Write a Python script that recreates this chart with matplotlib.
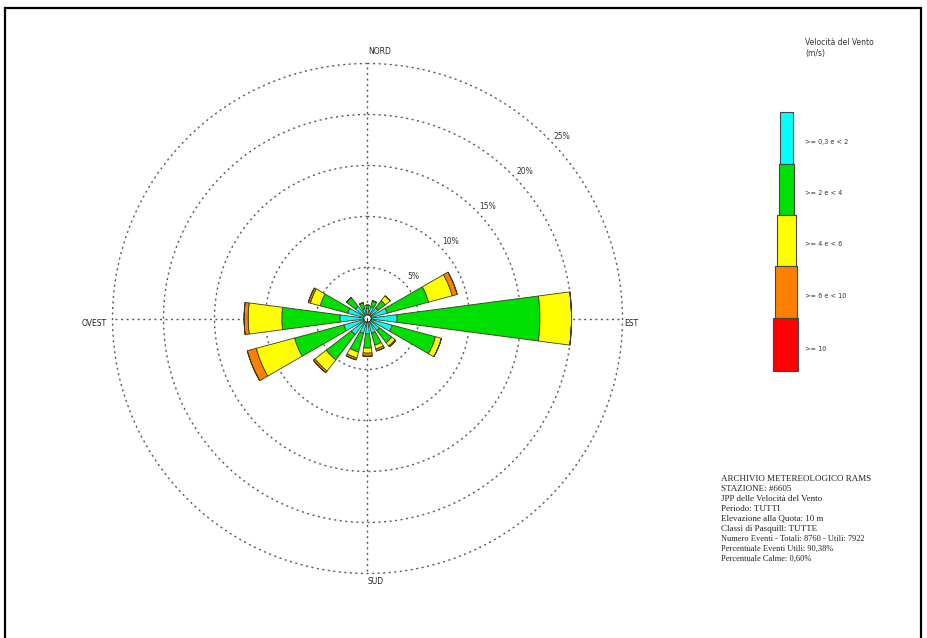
import numpy as np
import matplotlib
matplotlib.use("Agg")
import matplotlib.pyplot as plt
from matplotlib.patches import Rectangle

# Wind rose: frequency (%) per direction sector and speed class
directions = ["N", "NNE", "NE", "ENE", "E", "ESE", "SE", "SSE",
              "S", "SSW", "SW", "WSW", "W", "WNW", "NW", "NNW"]
freq_03_2 = [1.0, 1.2, 1.3, 2.0, 2.9, 2.5, 1.5, 1.5, 1.5, 1.5, 2.0, 2.4, 2.7, 2.0, 1.5, 1.0]
freq_2_4 = [0.3, 0.6, 0.9, 4.2, 14.0, 4.4, 1.5, 1.2, 1.4, 1.9, 3.1, 5.0, 5.7, 2.8, 1.1, 0.6]
freq_4_6 = [0.0, 0.0, 0.6, 2.4, 3.1, 0.6, 0.4, 0.4, 0.5, 0.6, 1.4, 3.9, 3.3, 1.0, 0.0, 0.0]
freq_6_10 = [0.0, 0.0, 0.0, 0.5, 0.0, 0.0, 0.1, 0.2, 0.3, 0.2, 0.2, 0.9, 0.4, 0.2, 0.0, 0.0]
freq_10 = [0.0] * 16
calm_pct = 0.35

class_labels = [">= 0,3 e < 2", ">= 2 e < 4", ">= 4 e < 6", ">= 6 e < 10", ">= 10"]
class_colors = ["#00FFFF", "#00E000", "#FFFF00", "#FF8000", "#FF0000"]
ring_values = [5, 10, 15, 20, 25]
ring_labels = ["5%", "10%", "15%", "20%", "25%"]

info_lines = [
    "ARCHIVIO METEREOLOGICO RAMS",
    "STAZIONE: #6605",
    "JPP delle Velocità del Vento",
    "Periodo: TUTTI",
    "Elevazione alla Quota: 10 m",
    "Classi di Pasquill: TUTTE",
    "Numero Eventi - Totali: 8760 - Utili: 7922",
    "Percentuale Eventi Utili: 90,38%",
    "Percentuale Calme: 0,60%",
]

W, H = 927, 638
fig = plt.figure(figsize=(W / 100, H / 100), dpi=100)
fig.patch.set_facecolor("white")


def fx(x):
    return x / W


def fy(y):
    return 1 - y / H


# outer frame
fig.add_artist(Rectangle((fx(5), fy(645)), fx(921) - fx(5), fy(8) - fy(645),
                         transform=fig.transFigure, fill=False,
                         edgecolor="black", linewidth=1.6))

# polar rose (a little headroom beyond the 25% ring so it is not clipped)
r_max = 25.4
cx, cy = 367.5, 318.5
R = 255 * r_max / 25
ax = fig.add_axes([fx(cx - R), fy(cy + R), 2 * R / W, 2 * R / H], projection="polar")
ax.set_theta_zero_location("N")
ax.set_theta_direction(-1)
ax.set_ylim(0, r_max)
ax.axis("off")

theta = np.deg2rad(np.arange(16) * 22.5)
width = np.deg2rad(15)
series = [freq_03_2, freq_2_4, freq_4_6, freq_6_10, freq_10]
bottom = np.zeros(16)
for vals, col in zip(series, class_colors):
    vals = np.asarray(vals)
    ax.bar(theta, vals, width=width, bottom=bottom, color=col,
           edgecolor="#3a3a1a", linewidth=0.6, zorder=3)
    bottom = bottom + vals

# rings and cross lines
tt = np.linspace(0, 2 * np.pi, 400)
for rv in ring_values:
    ax.plot(tt, np.full_like(tt, rv), color="#5a5a5a", linewidth=1.0,
            linestyle=(0, (1.5, 2.5)), zorder=1)
for ang in [0, 90, 180, 270]:
    ax.plot([np.deg2rad(ang)] * 2, [0, 25], color="#5a5a5a", linewidth=1.0,
            linestyle=(0, (1.5, 2.5)), zorder=1)

# calm circle
ax.bar([0], [calm_pct], width=2 * np.pi, bottom=0, color="white",
       edgecolor="#222222", linewidth=0.6, zorder=5)

# ring labels
for rv, lab in zip(ring_values, ring_labels):
    ax.text(np.deg2rad(47), rv + 1.1, lab, fontsize=5.5, color="#333333",
            ha="center", va="center", family="DejaVu Sans")

# compass labels
fig.text(fx(368), fy(52), "NORD", fontsize=5.5, ha="left", va="center", color="#222222")
fig.text(fx(631), fy(324), "EST", fontsize=5.5, ha="center", va="center", color="#222222")
fig.text(fx(367), fy(581), "SUD", fontsize=5.5, ha="left", va="center", color="#222222")
fig.text(fx(94), fy(324), "OVEST", fontsize=5.5, ha="center", va="center", color="#222222")

# legend
fig.text(fx(805), fy(38), "Velocità del Vento\n(m/s)", fontsize=5.5, ha="left",
         va="top", color="#333333", linespacing=1.3)
box_left = [780, 778.5, 777, 775, 773]
box_right = [793, 794, 796, 797, 798]
box_top = [112, 164, 215, 266, 318]
box_bot = [164, 215, 266, 318, 371]
for i, (lab, col) in enumerate(zip(class_labels, class_colors)):
    fig.add_artist(Rectangle((fx(box_left[i]), fy(box_bot[i])),
                             fx(box_right[i]) - fx(box_left[i]),
                             fy(box_top[i]) - fy(box_bot[i]),
                             transform=fig.transFigure, facecolor=col,
                             edgecolor="#444444", linewidth=0.8))
    fig.text(fx(805), fy((box_top[i] + box_bot[i]) / 2 + 4), lab, fontsize=4.7,
             ha="left", va="center", color="#333333")

# station info block
for i, line in enumerate(info_lines):
    fig.text(fx(721), fy(479 + 10 * i), line, fontsize=6.5 if i < 6 else 6.0,
             ha="left", va="center", color="#222222", family="Liberation Serif")

fig.savefig("out.png", dpi=100, facecolor="white")
